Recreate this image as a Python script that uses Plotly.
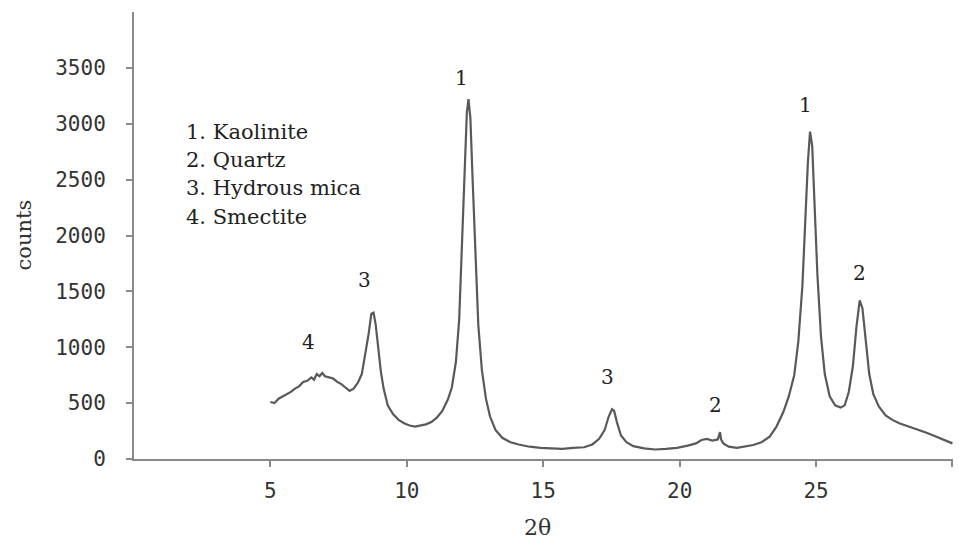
import plotly.graph_objects as go

# ---- data ----
two_theta = [5.0, 5.15, 5.3, 5.45, 5.6, 5.75, 5.9, 6.05, 6.2, 6.35, 6.5, 6.6, 6.7, 6.8, 6.9, 7.0,
             7.15, 7.3, 7.45, 7.6, 7.75, 7.9, 8.05, 8.2, 8.35, 8.5, 8.6, 8.7, 8.78, 8.86, 8.95, 9.05,
             9.15, 9.3, 9.5, 9.7, 9.9, 10.1, 10.3, 10.5, 10.7, 10.9, 11.1, 11.3, 11.5, 11.65, 11.8,
             11.92, 12.02, 12.12, 12.2, 12.26, 12.33, 12.42, 12.52, 12.62, 12.75, 12.9, 13.05,
             13.25, 13.5, 13.8, 14.1, 14.5, 14.9, 15.3, 15.7, 16.1, 16.5, 16.8, 17.05, 17.25,
             17.4, 17.52, 17.6, 17.7, 17.85, 18.05, 18.3, 18.7, 19.1, 19.5, 19.9, 20.3, 20.6,
             20.8, 21.0, 21.2, 21.4, 21.48, 21.52, 21.6, 21.8, 22.1, 22.4, 22.7, 23.0, 23.3,
             23.55, 23.8, 24.0, 24.2, 24.35, 24.5, 24.6, 24.7, 24.78, 24.86, 24.95, 25.05,
             25.18, 25.32, 25.5, 25.7, 25.9, 26.05, 26.2, 26.35, 26.48, 26.6, 26.7, 26.82,
             26.95, 27.1, 27.3, 27.55, 27.8, 28.05, 28.3, 28.55, 28.8, 29.05, 29.3, 29.55,
             29.8, 30.0]
counts = [510, 500, 540, 560, 580, 600, 630, 650, 690, 700, 730, 710, 760, 740, 770, 740,
          730, 720, 690, 670, 640, 610, 630, 680, 760, 960, 1120, 1300, 1310, 1200, 980, 780,
          630, 480, 400, 350, 320, 300, 290, 300, 310, 330, 370, 430, 530, 640, 870,
          1250, 1900, 2650, 3100, 3220, 3050, 2450, 1750, 1200, 800, 540, 380,
          260, 190, 150, 130, 110, 100, 95, 90, 100, 105, 130, 180, 260,
          380, 445, 430, 330, 210, 150, 115, 95, 85, 90, 100, 120, 140,
          170, 180, 165, 175, 240, 175, 140, 110, 100, 110, 125, 150, 200,
          290, 420, 560, 750, 1050, 1550, 2100, 2650, 2930, 2800, 2250, 1650,
          1100, 760, 560, 480, 460, 480, 600, 830, 1180, 1420, 1350, 1050,
          760, 580, 470, 390, 350, 320, 300, 280, 255, 235, 210, 185,
          155, 140]

peak_x = [12.0, 8.45, 6.4, 17.35, 21.3, 24.63, 26.61]
peak_y = [3409, 1602, 1047, 734, 483, 3168, 1664]
peak_text = ["1", "3", "4", "3", "2", "1", "2"]

legend_lines = ["1. Kaolinite", "2. Quartz", "3. Hydrous mica", "4. Smectite"]
legend_y = [2926, 2676, 2425, 2166]

x_ticks = [5, 10, 15, 20, 25, 30]
y_ticks = [0, 500, 1000, 1500, 2000, 2500, 3000, 3500]

fig = go.Figure()
fig.add_trace(go.Scatter(x=two_theta, y=counts, mode="lines",
                         line=dict(color="#595959", width=2.2), showlegend=False,
                         hoverinfo="skip"))

ann = []
for px, py, t in zip(peak_x, peak_y, peak_text):
    ann.append(dict(x=px, y=py, text=t, showarrow=False, xref="x", yref="y",
                    font=dict(family="DejaVu Serif", size=20, color="#222222")))
for t, ly in zip(legend_lines, legend_y):
    ann.append(dict(x=1.85, y=ly, text=t, showarrow=False, xref="x", yref="y",
                    xanchor="left", yanchor="middle",
                    font=dict(family="DejaVu Serif", size=21, color="#222222")))
ann.append(dict(x=(23 - 134) / 819, y=0.5, xref="paper", yref="paper", text="counts",
                textangle=-90, showarrow=False, xanchor="center", yanchor="middle",
                font=dict(family="DejaVu Serif", size=21, color="#333333")))
ann.append(dict(x=(537 - 134) / 819, y=-(527 - 459) / 447, xref="paper", yref="paper",
                text="2θ", showarrow=False, xanchor="center", yanchor="middle",
                font=dict(family="DejaVu Serif", size=22, color="#333333")))

fig.update_layout(
    width=959, height=549,
    margin=dict(l=134, r=6, t=12, b=90),
    paper_bgcolor="white", plot_bgcolor="white",
    annotations=ann,
    xaxis=dict(range=[0, 30.02], tickvals=x_ticks, ticktext=[str(v) for v in x_ticks],
               showgrid=False, zeroline=False, showline=True, linecolor="#8a8a8a",
               linewidth=2, ticks="outside", ticklen=6, tickcolor="#8a8a8a", tickwidth=1.5,
               ticklabelstandoff=6,
               tickfont=dict(family="DejaVu Sans Mono", size=21, color="#333333")),
    yaxis=dict(range=[0, 4000], tickvals=y_ticks, ticktext=[str(v) for v in y_ticks],
               showgrid=False, zeroline=False, showline=True, linecolor="#8a8a8a",
               linewidth=2, ticks="outside", ticklen=6, tickcolor="#8a8a8a", tickwidth=1.5,
               ticklabelstandoff=16,
               tickfont=dict(family="DejaVu Sans Mono", size=21, color="#333333")),
)

fig.write_html("out.html")
